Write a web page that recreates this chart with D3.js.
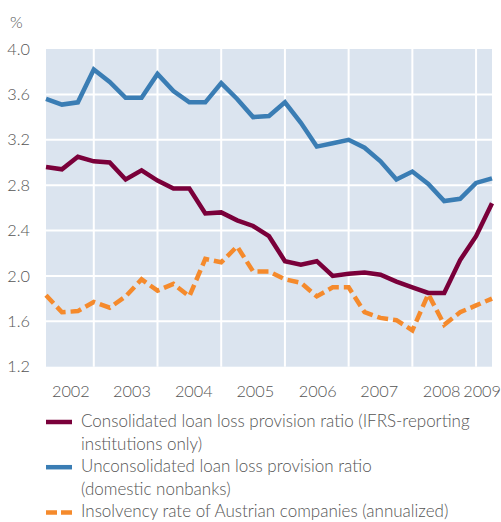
<!DOCTYPE html>
<html>

<head>
  <meta charset="utf-8">
  <style>
    body {
      margin: 0;
      background-color: #fff;
    }

    .label {
      font-family: Lato, "Open Sans", sans-serif;
      font-weight: 300;
      font-size: 16.3px;
      fill: #555;
    }

    .legend {
      font-size: 17px;
    }

    .line {
      fill: none;
      stroke-width: 4.5px;
    }
  </style>
</head>

<body>
  <svg id="chart" width="501" height="522"></svg>

  <script src="https://cdn.jsdelivr.net/npm/d3@7"></script>
  <script>
    // quarterly data, Q1 2002 .. Q1 2009
    var quarters = ["2002Q1", "2002Q2", "2002Q3", "2002Q4", "2003Q1", "2003Q2", "2003Q3", "2003Q4",
      "2004Q1", "2004Q2", "2004Q3", "2004Q4", "2005Q1", "2005Q2", "2005Q3", "2005Q4",
      "2006Q1", "2006Q2", "2006Q3", "2006Q4", "2007Q1", "2007Q2", "2007Q3", "2007Q4",
      "2008Q1", "2008Q2", "2008Q3", "2008Q4", "2009Q1"];

    var consolidated = [2.96, 2.94, 3.05, 3.01, 3.00, 2.85, 2.93, 2.84, 2.77, 2.77,
      2.55, 2.56, 2.49, 2.44, 2.35, 2.13, 2.10, 2.13, 2.00, 2.02,
      2.03, 2.01, 1.95, 1.90, 1.85, 1.85, 2.14, 2.35, 2.64];

    var unconsolidated = [3.56, 3.51, 3.53, 3.82, 3.71, 3.57, 3.57, 3.78, 3.63, 3.53,
      3.53, 3.70, 3.56, 3.40, 3.41, 3.53, 3.35, 3.14, 3.17, 3.20,
      3.13, 3.01, 2.85, 2.92, 2.81, 2.66, 2.68, 2.82, 2.86];

    var insolvency = [1.83, 1.68, 1.69, 1.77, 1.72, 1.82, 1.97, 1.87, 1.93, 1.82,
      2.15, 2.12, 2.26, 2.04, 2.04, 1.97, 1.94, 1.82, 1.90, 1.90,
      1.68, 1.63, 1.61, 1.52, 1.84, 1.57, 1.68, 1.74, 1.80];

    var years = ["2002", "2003", "2004", "2005", "2006", "2007", "2008", "2009"];
    // where the year labels sit, in quarter index units
    var yearLabelAt = [1.56, 5.4, 9.28, 13.14, 17.06, 20.92, 24.84, 27.38];
    var yTicks = [1.2, 1.6, 2.0, 2.4, 2.8, 3.2, 3.6, 4.0];

    var legendText = [
      ["Consolidated loan loss provision ratio (IFRS-reporting", "institutions only)"],
      ["Unconsolidated loan loss provision ratio", "(domestic nonbanks)"],
      ["Insolvency rate of Austrian companies (annualized)"]
    ];

    var svg = d3.select("#chart"),
      margin = { top: 49, right: 9, bottom: 155.3, left: 46 },
      width = 501 - margin.left - margin.right,
      height = 522 - margin.top - margin.bottom,
      g = svg.append("g").attr("transform", "translate(" + margin.left + "," + margin.top + ")");

    var x = d3.scaleLinear().domain([0, quarters.length - 1]).range([0, width]),
      y = d3.scaleLinear().domain([1.2, 4.0]).range([height, 0]);

    var series = [
      { values: unconsolidated, color: "#3a7db4", dash: null },
      { values: consolidated, color: "#7a003a", dash: null },
      { values: insolvency, color: "#f58a2c", dash: "11,5" }
    ];

    g.append("rect")
      .attr("width", width)
      .attr("height", height)
      .attr("fill", "#dbe4ef");

    // vertical grid at each Q4
    g.selectAll(".vgrid")
      .data(quarters.filter(function (q) { return q.slice(-2) == "Q4"; }))
      .enter().append("line")
      .attr("class", "vgrid")
      .attr("x1", function (d) { return x(quarters.indexOf(d)); })
      .attr("x2", function (d) { return x(quarters.indexOf(d)); })
      .attr("y1", 0)
      .attr("y2", height)
      .attr("stroke", "#fff")
      .attr("stroke-width", 2);

    g.selectAll(".hgrid")
      .data(yTicks.slice(1, -1))
      .enter().append("line")
      .attr("class", "hgrid")
      .attr("x1", 0)
      .attr("x2", width)
      .attr("y1", function (d) { return y(d); })
      .attr("y2", function (d) { return y(d); })
      .attr("stroke", "#fff")
      .attr("stroke-width", 2);

    var yAxis = g.append("g")
      .call(d3.axisLeft(y).tickValues(yTicks).tickFormat(d3.format(".1f")).tickSize(0).tickPadding(16));
    yAxis.select(".domain").remove();
    yAxis.selectAll("text")
      .attr("class", "label")
      .attr("dy", "0.32em")
      .attr("fill", null)
      .attr("font-family", null)
      .attr("font-size", null);

    svg.append("text")
      .attr("class", "label")
      .attr("x", 10)
      .attr("y", 28)
      .text("%");

    g.selectAll(".year")
      .data(years)
      .enter().append("text")
      .attr("class", "label year")
      .attr("x", function (d, i) { return x(yearLabelAt[i]); })
      .attr("y", height + 30)
      .attr("text-anchor", "middle")
      .text(function (d) { return d; });

    var line = d3.line()
      .x(function (d, i) { return x(i); })
      .y(function (d) { return y(d); });

    g.selectAll(".line")
      .data(series)
      .enter().append("path")
      .attr("class", "line")
      .attr("d", function (d) { return line(d.values); })
      .attr("stroke", function (d) { return d.color; })
      .attr("stroke-dasharray", function (d) { return d.dash; });

    // legend
    var legendOrder = [series[1], series[0], series[2]];
    var row = 0;
    legendOrder.forEach(function (s, k) {
      var top = 427 + row * 22.6;
      svg.append("line")
        .attr("x1", 46).attr("x2", 72)
        .attr("y1", top - 5).attr("y2", top - 5)
        .attr("stroke", s.color)
        .attr("stroke-width", 4.5)
        .attr("stroke-dasharray", s.dash ? "11,4" : null);
      legendText[k].forEach(function (t) {
        svg.append("text")
          .attr("class", "label legend")
          .attr("x", 81)
          .attr("y", 427 + row * 22.6)
          .text(t);
        row++;
      });
    });
  </script>
</body>

</html>
